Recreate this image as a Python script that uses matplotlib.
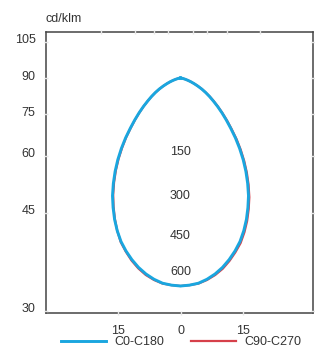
import numpy as np
import matplotlib.pyplot as plt
from matplotlib.transforms import ScaledTranslation

plt.rcParams['font.family'] = ['Liberation Sans', 'DejaVu Sans']

# gamma angles from nadir, degrees
angles = [0, 2.5, 5, 7.5, 10, 12.5, 15, 17.5, 20, 22.5, 25, 27.5, 30, 32.5, 35, 37.5,
          40, 42.5, 45, 47.5, 50, 52.5, 55, 57.5, 60, 62.5, 65, 67.5, 70, 72.5, 75,
          77.5, 80, 82.5, 85, 87.5, 90]
# intensity, cd/klm
c0 = [624, 622, 618, 609, 597, 582, 564, 544, 522, 496, 468, 438, 408, 375, 342, 309,
      276, 244, 213, 186, 162, 140, 120, 103, 87, 72, 57, 44, 33, 23, 15,
      9, 6, 3, 0, 0, 0]
c180 = [624, 622, 618, 609, 597, 582, 564, 544, 522, 496, 468, 438, 408, 375, 342, 309,
        276, 244, 213, 186, 162, 140, 120, 103, 87, 72, 57, 44, 33, 23, 15,
        9, 6, 3, 0, 0, 0]
c90 = [624, 622, 619, 611, 600, 586, 568, 548, 527, 501, 473, 443, 413, 380, 347, 314,
       281, 249, 217, 190, 165, 143, 123, 105, 88, 73, 58, 45, 33, 23, 15,
       9, 6, 3, 0, 0, 0]
c270 = [624, 622, 619, 611, 600, 585, 567, 546, 524, 496, 466, 435, 404, 371, 338, 305,
        272, 241, 210, 184, 160, 139, 119, 102, 86, 71, 57, 44, 33, 23, 15,
        9, 6, 3, 0, 0, 0]

side_angles = [105, 90, 75, 60, 45, 30]
bottom_angles = [-15, 0, 15]
top_angles = [-120, -135, -150, -165, 180, 165, 150, 135, 120]
ring_labels = ['150', '300', '450', '600']
ring_pos = [222, 354, 474, 582]

blue = '#1aa6df'
red = '#d6404a'
txt = '#333333'

xmin, xmax = -403.5, 397.5
ymin, ymax = -705, 138


def curve(right, left):
    a = np.radians(angles)
    r1 = np.array(right, float)
    r2 = np.array(left, float)
    x = np.concatenate([-(r2 * np.sin(a))[::-1], r1 * np.sin(a)])
    y = np.concatenate([-(r2 * np.cos(a))[::-1], -r1 * np.cos(a)])
    return x, y


fig = plt.figure(figsize=(3.15, 3.5), dpi=100)
ax = fig.add_axes([46/315, 37/350, 267/315, 281/350])

xr, yr = curve(c90, c270)
xb, yb = curve(c0, c180)
l2, = ax.plot(xr, yr, color=red, lw=1.6, solid_joinstyle='round', label='C90-C270')
l1, = ax.plot(xb, yb, color=blue, lw=2.1, solid_joinstyle='round', label='C0-C180')

for lab, r in zip(ring_labels, ring_pos):
    ax.text(0, -r, lab, ha='center', va='center', fontsize=9, color=txt)

ax.set_xlim(xmin, xmax)
ax.set_ylim(ymin, ymax)

yt = [xmin / np.tan(np.radians(a)) for a in side_angles]
ax.set_yticks(yt)
ax.set_yticklabels([str(a) for a in side_angles])
xt = [-ymin * np.tan(np.radians(a)) for a in bottom_angles]
ax.set_xticks(xt)
ax.set_xticklabels([str(abs(a)) for a in bottom_angles])
xt_top = [ymax * np.tan(np.radians(180 - a)) if a > 0 else -ymax * np.tan(np.radians(180 + a))
          for a in top_angles]
ax.set_xticks(xt_top, minor=True)

ax.tick_params(axis='both', which='major', direction='inout', length=3, width=1,
               color='#e6e6e6', labelcolor=txt, labelsize=9, right=True)
ax.tick_params(axis='x', which='major', pad=7)
ax.tick_params(axis='y', which='major', pad=6)
ax.tick_params(axis='x', which='minor', bottom=False, top=True, direction='inout',
               length=3, width=1, color='#e6e6e6')
for sp in ax.spines.values():
    sp.set_color('#444444')
    sp.set_linewidth(1.1)
    sp.set_zorder(1)

off = ScaledTranslation(0, 0.03, fig.dpi_scale_trans)
for lab in ax.get_yticklabels():
    lab.set_transform(lab.get_transform() + off)

fig.text(46/315, 1 - 19/350, 'cd/klm', ha='left', va='center', fontsize=9, color=txt)

fig.legend(handles=[l1, l2], loc='center', bbox_to_anchor=(0.575, 1 - 342/350),
           ncol=2, frameon=False, fontsize=9, handlelength=3.6, handletextpad=0.7,
           columnspacing=2.1, labelcolor=txt, borderpad=0, borderaxespad=0)

fig.savefig('out.png', dpi=100)
